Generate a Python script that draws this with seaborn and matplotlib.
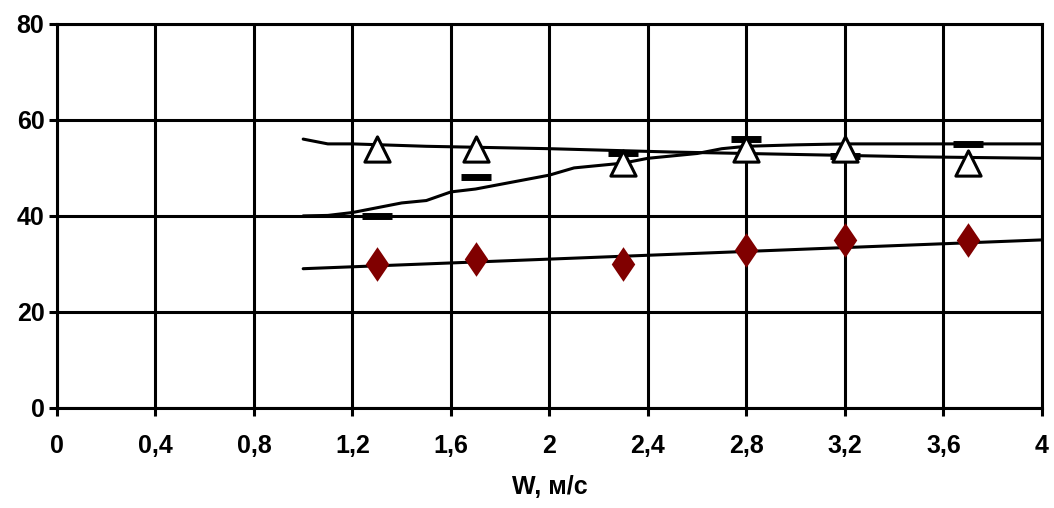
import numpy as np
import pandas as pd
import matplotlib
matplotlib.use('Agg')
import matplotlib.pyplot as plt
import seaborn as sns

sns.set_style('white')
plt.rcParams['font.family'] = ['Liberation Sans', 'DejaVu Sans']
plt.rcParams['font.weight'] = 'bold'
plt.rcParams['text.color'] = 'black'
plt.rcParams['axes.labelcolor'] = 'black'

# measured points
w_points = [1.3, 1.7, 2.3, 2.8, 3.2, 3.7]
triangles = [54, 54, 51, 54, 54, 51]
dashes = [40, 48, 53, 56, 52.5, 55]
diamonds = [30, 31, 30, 33, 35, 35]

# trend lines
line1_w = [1.0, 1.1, 1.2, 1.5, 2.0, 2.5, 3.0, 3.5, 4.0]
line1_y = [56, 55, 55, 54.5, 54, 53.3, 52.8, 52.3, 52]

line2_w = [1.0, 1.1, 1.2, 1.4, 1.5, 1.6, 1.7, 2.0, 2.1, 2.3, 2.4, 2.6, 2.7, 2.8, 3.0, 3.2, 4.0]
line2_y = [40, 40.1, 40.7, 42.7, 43.2, 45, 45.6, 48.5, 50, 51, 52, 53, 54, 54.5, 54.8, 55, 55]

line3_w = [1.0, 4.0]
line3_y = [29, 35]

x_ticks = [0, 0.4, 0.8, 1.2, 1.6, 2, 2.4, 2.8, 3.2, 3.6, 4]
x_labels = ['0', '0,4', '0,8', '1,2', '1,6', '2', '2,4', '2,8', '3,2', '3,6', '4']
y_ticks = [0, 20, 40, 60, 80]

fig = plt.figure(figsize=(10.54, 5.08), dpi=100)
ax = fig.add_axes([0.054, 0.197, 0.9346, 0.756])

lw = 2.2
sns.lineplot(x=line1_w, y=line1_y, ax=ax, color='black', lw=lw, zorder=3)
sns.lineplot(x=line2_w, y=line2_y, ax=ax, color='black', lw=lw, zorder=3)
sns.lineplot(x=line3_w, y=line3_y, ax=ax, color='black', lw=lw, zorder=3)

# tall diamond like the excel marker
diamond = [(0, 1), (0.68, 0), (0, -1), (-0.68, 0), (0, 1)]

ax.plot(w_points, dashes, ls='none', marker='_', ms=21, mew=5, color='black', zorder=4)
sns.scatterplot(x=w_points, y=triangles, ax=ax, marker='^', s=330, color='white',
                edgecolor='black', linewidth=2.2, zorder=5)
sns.scatterplot(x=w_points, y=diamonds, ax=ax, marker=diamond, s=620, color='#800000',
                edgecolor='#800000', linewidth=0, zorder=5)

ax.set_xlim(0, 4)
ax.set_ylim(0, 80)
ax.set_xticks(x_ticks)
ax.set_xticklabels(x_labels)
ax.set_yticks(y_ticks)
ax.grid(True, color='black', lw=lw)
ax.set_axisbelow(True)
for s in ax.spines.values():
    s.set_linewidth(lw)
    s.set_color('black')

ax.tick_params(axis='both', direction='out', length=6, width=lw, colors='black',
               labelsize=18, bottom=True, left=True)
ax.tick_params(axis='x', pad=13)
ax.tick_params(axis='y', pad=3)
for lab in ax.get_xticklabels() + ax.get_yticklabels():
    lab.set_fontweight('bold')
    lab.set_color('black')

ax.set_xlabel('W, м/с', fontsize=18, fontweight='bold', color='black', labelpad=12)
ax.set_ylabel('')

fig.savefig('out.png', dpi=100)
